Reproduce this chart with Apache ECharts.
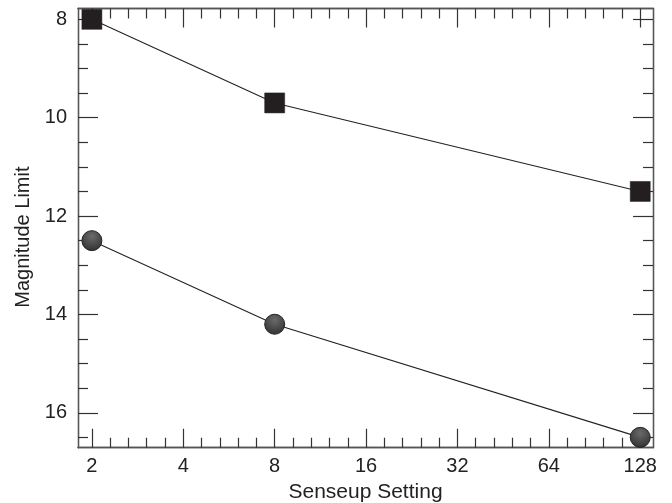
<!DOCTYPE html>
<html lang="en">
<head>
    <meta charset="UTF-8">
    <title>Magnitude Limit vs Senseup Setting</title>
    <script src="https://cdn.jsdelivr.net/npm/echarts@6/dist/echarts.min.js"></script>
    <style>
        html, body { margin: 0; padding: 0; background: #ffffff; }
        #chart { width: 672px; height: 503px; }
    </style>
</head>
<body>
    <div id="chart"></div>
    <script>
        // senseup settings (x, log2 axis) and magnitude limits
        let senseup = [2, 8, 128];
        let squareMag = [8.0, 9.7, 11.5];
        let circleMag = [12.5, 14.2, 16.5];

        // tick marks
        let xMajor = [2, 4, 8, 16, 32, 64, 128];
        let yMajor = [8, 10, 12, 14, 16];
        let yMinor = [8.5, 9, 9.5, 10.5, 11, 11.5, 12.5, 13, 13.5, 14.5, 15, 15.5, 16.5];
        let xRange = [1.8, 141];
        let yRange = [7.78, 16.71];

        let lx = v => Math.log2(v);
        let xMajorPos = xMajor.map(lx);
        // 5 log-even divisions per octave
        let xMinorPos = [];
        for (let k = 0; k < xMajorPos.length - 1; k++) {
            for (let j = 1; j < 5; j++) xMinorPos.push(xMajorPos[k] + j / 5);
        }

        let axisCol = '#555555';
        let font = 'Liberation Sans, Arial, sans-serif';

        function xAx(position, ticks, len, withLabels) {
            return {
                type: 'value',
                position: position,
                min: lx(xRange[0]),
                max: lx(xRange[1]),
                axisLine: { show: true, onZero: false, lineStyle: { color: axisCol, width: 1.3 } },
                axisTick: { show: true, inside: true, length: len, customValues: ticks,
                    lineStyle: { color: '#333', width: 1.2 } },
                axisLabel: withLabels ? {
                    show: true, customValues: xMajorPos, margin: 9,
                    fontSize: 20, fontFamily: font, color: '#222',
                    formatter: v => String(Math.round(Math.pow(2, v)))
                } : { show: false },
                splitLine: { show: false },
                name: withLabels ? 'Senseup Setting' : '',
                nameLocation: 'middle',
                nameGap: 33,
                nameTextStyle: { fontSize: 21, fontFamily: font, color: '#222' }
            };
        }

        function yAx(position, ticks, len, withLabels) {
            return {
                type: 'value',
                position: position,
                inverse: true,
                min: yRange[0],
                max: yRange[1],
                axisLine: { show: true, onZero: false, lineStyle: { color: axisCol, width: 1.3 } },
                axisTick: { show: true, inside: true, length: len, customValues: ticks,
                    lineStyle: { color: '#333', width: 1.2 } },
                axisLabel: withLabels ? {
                    show: true, customValues: yMajor, margin: 11,
                    fontSize: 20, fontFamily: font, color: '#222'
                } : { show: false },
                splitLine: { show: false },
                name: withLabels ? 'Magnitude Limit' : '',
                nameLocation: 'middle',
                nameGap: 44,
                nameTextStyle: { fontSize: 20, fontFamily: font, color: '#222', padding: [0, 18, 0, 0] }
            };
        }

        let option = {
            backgroundColor: '#ffffff',
            animation: false,
            grid: { left: 78, top: 8.5, right: 19, bottom: 55.3, outerBoundsMode: 'none' },
            xAxis: [
                xAx('bottom', xMajorPos, 19, true),
                xAx('bottom', xMinorPos, 10, false),
                xAx('top', xMajorPos, 19, false),
                xAx('top', xMinorPos, 10, false)
            ],
            yAxis: [
                yAx('left', yMajor, 20, true),
                yAx('left', yMinor, 10, false),
                yAx('right', yMajor, 20, false),
                yAx('right', yMinor, 10, false)
            ],
            series: [
                {
                    name: 'squares',
                    type: 'line',
                    symbol: 'rect',
                    symbolSize: 20,
                    lineStyle: { color: '#222', width: 1.1 },
                    itemStyle: { color: '#231f20', borderColor: '#231f20', borderWidth: 0.5 },
                    data: senseup.map((x, i) => [lx(x), squareMag[i]])
                },
                {
                    name: 'circles',
                    type: 'line',
                    symbol: 'circle',
                    symbolSize: 20,
                    lineStyle: { color: '#222', width: 1.1 },
                    itemStyle: {
                        color: new echarts.graphic.RadialGradient(0.5, 0.3, 0.75, [
                            { offset: 0, color: '#6a6a6a' },
                            { offset: 1, color: '#2e2e2e' }
                        ]),
                        borderColor: '#222',
                        borderWidth: 1
                    },
                    data: senseup.map((x, i) => [lx(x), circleMag[i]])
                }
            ]
        };

        let chart = echarts.init(document.getElementById('chart'));
        chart.setOption(option);
    </script>
</body>
</html>
